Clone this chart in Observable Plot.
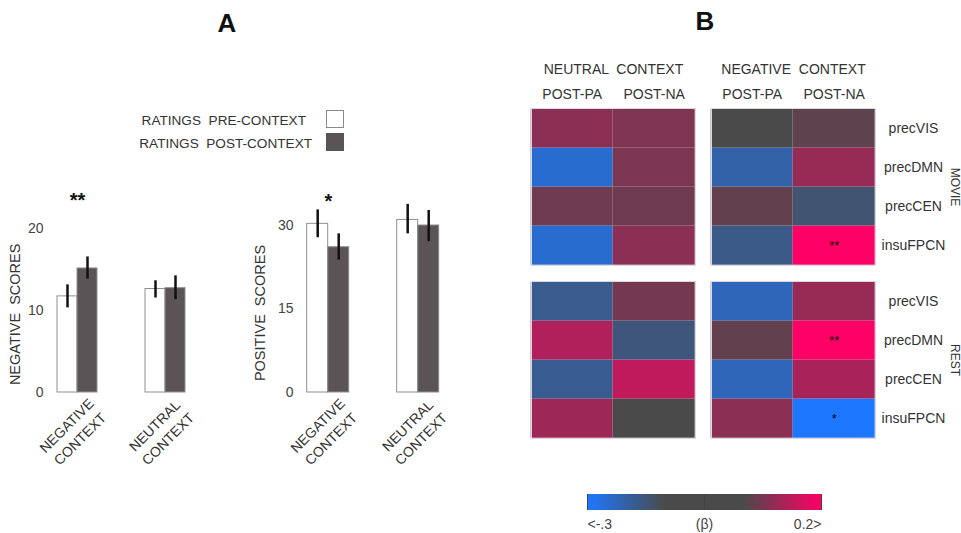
<!DOCTYPE html>
<html><head><meta charset="utf-8">
<script src="https://cdn.jsdelivr.net/npm/d3@7"></script>
<script src="https://cdn.jsdelivr.net/npm/@observablehq/plot@0.6"></script>
<style>
html,body{margin:0;padding:0;background:#fff;}
#root{position:relative;width:961px;height:533px;overflow:hidden;font-family:"Liberation Sans",Arial,sans-serif;color:#333;}
.abs{position:absolute;}
svg text{white-space:pre;}
.title{position:absolute;font-weight:bold;font-size:26px;color:#111;transform:translateX(-50%);}
.lg{position:absolute;font-size:13.6px;white-space:pre;color:#333;text-align:right;}
.box{position:absolute;width:18px;height:18px;box-sizing:border-box;}
</style></head><body><div id="root"></div>
<script>
// ---------- Panel A data ----------
const contextsA = ["NEGATIVE\nCONTEXT", "NEUTRAL\nCONTEXT"];
const timings = ["PRE-CONTEXT", "POST-CONTEXT"];
const legendLabels = ["RATINGS  PRE-CONTEXT", "RATINGS  POST-CONTEXT"];
// negative scores
const negPre = [11.7, 12.6];
const negPreLo = [10.3, 11.5];
const negPreHi = [13.1, 13.6];
const negPost = [15.1, 12.7];
const negPostLo = [13.8, 11.3];
const negPostHi = [16.5, 14.2];
const negSig = ["**", ""];
const negTicks = [0, 10, 20];
// positive scores
const posPre = [30.3, 31.0];
const posPreLo = [27.8, 28.5];
const posPreHi = [32.8, 33.8];
const posPost = [26.1, 30.0];
const posPostLo = [23.8, 27.1];
const posPostHi = [28.5, 32.7];
const posSig = ["*", ""];
const posTicks = [0, 15, 30];

// ---------- Panel B data ----------
const conditions = ["MOVIE", "REST"];
const contextsB = ["NEUTRAL  CONTEXT", "NEGATIVE  CONTEXT"];
const phases = ["POST-PA", "POST-NA"];
const regions = ["precVIS", "precDMN", "precCEN", "insuFPCN"];
const movieNeutralPA = [0.093, -0.257, 0.066, -0.257];
const movieNeutralNA = [0.082, 0.078, 0.066, 0.093];
const movieNegativePA = [-0.05, -0.22, 0.055, -0.19];
const movieNegativeNA = [0.051, 0.105, -0.168, 0.2];
const restNeutralPA = [-0.196, 0.127, -0.198, 0.11];
const restNeutralNA = [0.073, -0.178, 0.142, -0.05];
const restNegativePA = [-0.235, 0.055, -0.235, 0.093];
const restNegativeNA = [0.105, 0.2, 0.12, -0.3];
const movieNegativeNASig = ["", "", "", "**"];
const restNegativeNASig = ["", "**", "", "*"];
const colorStops = [-0.3, -0.133, 0.033, 0.2];
const colorRange = ["#1e78ff", "#4a4a4a", "#4a4a4a", "#ff0066"];
const colorbarTicks = [-0.3, -0.05, 0.2];
const colorbarLabels = ["<-.3", "(β)", "0.2>"];

const FONT = "'Liberation Sans', Arial, sans-serif";
const root = document.getElementById("root");
function place(el, left, top) {
  el.classList.add("abs");
  el.style.left = left + "px";
  el.style.top = top + "px";
  root.appendChild(el);
}

function barChart(o) {
  const rows = contextsA.flatMap((c, i) => [
    {context: c, timing: timings[0], value: o.pre[i], lo: o.preLo[i], hi: o.preHi[i]},
    {context: c, timing: timings[1], value: o.post[i], lo: o.postLo[i], hi: o.postHi[i]}
  ]);
  const groups = contextsA.map((c, i) => ({context: c, sig: o.sig[i]}));
  return Plot.plot({
    width: o.width, height: 310,
    marginTop: o.marginTop, marginBottom: 88, marginLeft: o.marginLeft, marginRight: o.marginRight,
    style: {fontFamily: FONT, fontSize: "14px", color: "#444", background: "transparent", overflow: "visible"},
    fx: {domain: contextsA, paddingInner: o.pad, paddingOuter: 0, axis: null},
    x: {domain: timings, padding: 0, axis: null},
    y: {domain: [0, o.yMax], axis: null},
    color: {domain: timings, range: ["#ffffff", "#5a5456"]},
    marks: [
      Plot.barY(rows, {fx: "context", x: "timing", y: "value", fill: "timing", stroke: "#8f8f8f", strokeWidth: 1}),
      Plot.ruleX(rows, {fx: "context", x: "timing", y1: "lo", y2: "hi", stroke: "#111", strokeWidth: 2.5}),
      Plot.text(groups, {fx: "context", text: "sig", frameAnchor: "top", lineAnchor: "bottom", dy: o.sigDy, fontSize: 20, fontWeight: "bold", fill: "#111"}),
      Plot.text(groups, {fx: "context", text: "context", frameAnchor: "bottom", rotate: -45, textAnchor: "middle", lineAnchor: "middle", lineHeight: 1.35, dy: 39, dx: -5, fontSize: 14, fill: "#333"}),
      Plot.axisY({ticks: o.ticks, tickSize: 0, tickPadding: 14, label: null, fontSize: 14}),
      Plot.text([o.yLabel], {text: d => d, frameAnchor: "left", textAnchor: "middle", rotate: -90, dx: o.labelDx, dy: 4, fontSize: 14.5, fill: "#333", facet: "super"})
    ]
  });
}

const negChart = barChart({
  pre: negPre, preLo: negPreLo, preHi: negPreHi, post: negPost, postLo: negPostLo, postHi: negPostHi,
  sig: negSig, yMax: 20, ticks: negTicks, yLabel: "NEGATIVE  SCORES",
  width: 230, marginTop: 57.7, marginLeft: 56, marginRight: 45, pad: 0.55, sigDy: -21, labelDx: -42
});
place(negChart, 0, 170);

const posChart = barChart({
  pre: posPre, preLo: posPreLo, preHi: posPreHi, post: posPost, postLo: posPostLo, postHi: posPostHi,
  sig: posSig, yMax: 30, ticks: posTicks, yLabel: "POSITIVE  SCORES",
  width: 240, marginTop: 55, marginLeft: 67.3, marginRight: 40.7, pad: 0.535, sigDy: -18, labelDx: -47
});
place(posChart, 240, 170);

// Titles
const tA = document.createElement("div"); tA.className = "title"; tA.textContent = "A";
tA.style.left = "227px"; tA.style.top = "8px"; root.appendChild(tA);
const tB = document.createElement("div"); tB.className = "title"; tB.textContent = "B";
tB.style.left = "705px"; tB.style.top = "6px"; root.appendChild(tB);

// Legend for panel A
const legendFills = ["#ffffff", "#5a5456"];
const legendTops = [113, 136];
const legendRights = [655, 649];
legendLabels.forEach((lab, i) => {
  const t = document.createElement("div");
  t.className = "lg"; t.textContent = lab;
  t.style.right = legendRights[i] + "px"; t.style.top = legendTops[i] + "px";
  root.appendChild(t);
  const b = document.createElement("div");
  b.className = "box";
  b.style.left = "326px"; b.style.top = (legendTops[i] - 3) + "px";
  b.style.background = legendFills[i];
  b.style.border = "1px solid " + (i === 0 ? "#8a8a8a" : "#555");
  root.appendChild(b);
});

// ---------- Panel B heatmap ----------
const grid = {
  MOVIE: {"NEUTRAL  CONTEXT": [movieNeutralPA, movieNeutralNA], "NEGATIVE  CONTEXT": [movieNegativePA, movieNegativeNA]},
  REST: {"NEUTRAL  CONTEXT": [restNeutralPA, restNeutralNA], "NEGATIVE  CONTEXT": [restNegativePA, restNegativeNA]}
};
const sigGrid = {MOVIE: movieNegativeNASig, REST: restNegativeNASig};
const cells = [];
for (const cond of conditions) for (const ctx of contextsB) phases.forEach((ph, j) => regions.forEach((r, k) => {
  const sig = (ctx === contextsB[1] && j === 1) ? sigGrid[cond][k] : "";
  cells.push({condition: cond, context: ctx, phase: ph, region: r, beta: grid[cond][ctx][j][k], sig});
}));

const heat = Plot.plot({
  width: 441, height: 420,
  marginTop: 67.3, marginBottom: 20.7, marginLeft: 10.3, marginRight: 85.3,
  style: {fontFamily: FONT, fontSize: "14px", color: "#333", background: "transparent", overflow: "visible"},
  fx: {domain: contextsB, paddingInner: 0.087, paddingOuter: 0},
  fy: {domain: conditions, paddingInner: 0.09, paddingOuter: 0},
  x: {domain: phases, padding: 0},
  y: {domain: regions, padding: 0},
  color: {type: "linear", domain: colorStops, range: colorRange, clamp: true},
  marks: [
    Plot.cell(cells, {fx: "context", fy: "condition", x: "phase", y: "region", fill: "beta", inset: 0}),
    Plot.text(cells, {fx: "context", fy: "condition", x: "phase", y: "region", text: "sig", fontSize: 13, fill: "#000"}),
    Plot.frame({stroke: "#dcd6e0", strokeWidth: 1}),
    Plot.axisFx({anchor: "top", tickSize: 0, tickPadding: 35, label: null, fontSize: 14}),
    Plot.axisX({anchor: "top", tickSize: 0, tickPadding: 10, label: null, fontSize: 14}),
    Plot.axisY({anchor: "right", tickSize: 0, tickPadding: 38, textAnchor: "middle", label: null, fontSize: 14}),
    Plot.axisFy({anchor: "right", tickSize: 0, tickPadding: 84, tickRotate: 90, label: null, fontSize: 12})
  ]
});
place(heat, 520, 40);

// Colorbar
const bar = heat.legend("color", {
  width: 254, height: 50, marginLeft: 10, marginRight: 10, marginTop: 10, marginBottom: 24,
  ticks: colorbarTicks, tickSize: 0, label: null,
  tickFormat: d => colorbarLabels[colorbarTicks.indexOf(d)] ?? "",
  style: {fontFamily: FONT, fontSize: "14px", color: "#444", background: "transparent"}
});
place(bar, 576.7, 484.3);
const tickTexts = bar.querySelectorAll(".tick text");
tickTexts.forEach((t, i) => {
  t.setAttribute("text-anchor", i === 0 ? "start" : (i === tickTexts.length - 1 ? "end" : "middle"));
  t.setAttribute("y", 9);
  t.setAttribute("font-size", 14);
});
</script></body></html>
